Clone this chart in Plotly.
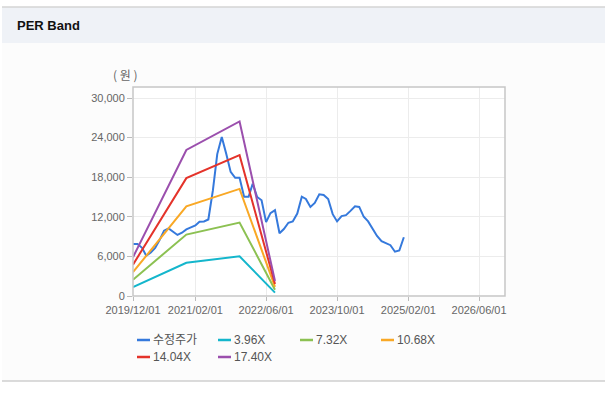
import plotly.graph_objects as go

# ---- data ----
price_dates = [f"{2019 + (11 + m) // 12}-{(11 + m) % 12 + 1:02d}-01" for m in range(62)]
price_values = [7880, 7880, 7300, 6100, 6600, 7300, 8500, 9900, 10250, 9800,
                9250, 9590, 10100, 10400, 10700, 11260, 11300, 11600, 16000, 21500,
                24100, 21500, 18800, 17900, 17900, 15040, 15040, 17000, 15000, 14500,
                11200, 12550, 13000, 9500, 10150, 11100, 11300, 12500, 15040, 14700,
                13500, 14100, 15400, 15300, 14700, 12400, 11300, 12100, 12250, 12900,
                13600, 13500, 12000, 11300, 10100, 9100, 8300, 8050, 7700, 6710,
                6900, 8900]

band_dates = ["2019-12-01", "2020-12-01", "2021-12-01", "2022-08-01"]
band_396 = [1340, 5040, 6020, 515]
band_732 = [2470, 9310, 11130, 950]
band_1068 = [3610, 13590, 16230, 1390]
band_1404 = [4750, 17860, 21340, 1825]
band_1740 = [5880, 22130, 26450, 2260]

series_names = ["수정주가", "3.96X", "7.32X", "10.68X", "14.04X", "17.40X"]
colors = ["#3579dc", "#14b6cc", "#8cc152", "#f9a825", "#e4332a", "#9b4fad"]

x_tick_vals = ["2019-12-01", "2021-02-01", "2022-06-01", "2023-10-01", "2025-02-01", "2026-06-01"]
x_tick_text = ["2019/12/01", "2021/02/01", "2022/06/01", "2023/10/01", "2025/02/01", "2026/06/01"]
y_tick_vals = [0, 6000, 12000, 18000, 24000, 30000]

fig = go.Figure()
fig.add_trace(go.Scatter(x=price_dates, y=price_values, mode="lines", name=series_names[0],
                         line=dict(color=colors[0], width=2)))
for name, vals, col in zip(series_names[1:], [band_396, band_732, band_1068, band_1404, band_1740], colors[1:]):
    fig.add_trace(go.Scatter(x=band_dates, y=vals, mode="lines", name=name,
                             line=dict(color=col, width=2)))

W, H = 608, 393
L, R, T, B = 133, 505, 87, 296
pw, ph = R - L, B - T

def px(x):
    return (x - L) / pw

def py(y):
    return (B - y) / ph

shapes = [
    # panel background
    dict(type="rect", xref="paper", yref="paper", x0=px(2), x1=px(605), y0=py(381), y1=py(43),
         fillcolor="#fcfcfc", line=dict(width=0), layer="below"),
    # header bar
    dict(type="rect", xref="paper", yref="paper", x0=px(2), x1=px(605), y0=py(43), y1=py(7),
         fillcolor="#eff2f7", line=dict(width=0), layer="below"),
    dict(type="line", xref="paper", yref="paper", x0=px(2), x1=px(605), y0=py(7), y1=py(7),
         line=dict(color="#d4d4d4", width=1.5)),
    dict(type="line", xref="paper", yref="paper", x0=px(2), x1=px(605), y0=py(381), y1=py(381),
         line=dict(color="#cfcfcf", width=1.5)),
    # plot area white
    dict(type="rect", xref="paper", yref="paper", x0=0, x1=1, y0=0, y1=1,
         fillcolor="#ffffff", line=dict(width=0), layer="below"),
    # frame
    dict(type="rect", xref="paper", yref="paper", x0=0, x1=1, y0=0, y1=1,
         line=dict(color="#c6c6c6", width=1.5), layer="above"),
]

annotations = [
    dict(text="<b>PER Band</b>", xref="paper", yref="paper", x=px(15), y=py(25),
         xanchor="left", yanchor="middle", showarrow=False,
         font=dict(family="Liberation Sans, Arial, sans-serif", size=13, color="#111111")),
    dict(text="( 원 )", xref="paper", yref="paper", x=px(125), y=py(74),
         xanchor="center", yanchor="middle", showarrow=False,
         font=dict(family="Noto Sans CJK KR, sans-serif", size=12, color="#666666")),
]

# legend (drawn as key dashes + text labels, two rows)
legend_x = [137, 218, 300, 381, 137, 218]
legend_y = [340, 340, 340, 340, 357, 357]
for name, col, lx, ly in zip(series_names, colors, legend_x, legend_y):
    shapes.append(dict(type="line", xref="paper", yref="paper", x0=px(lx), x1=px(lx + 13),
                       y0=py(ly), y1=py(ly), line=dict(color=col, width=2.5)))
    annotations.append(dict(text=name, xref="paper", yref="paper", x=px(lx + 14), y=py(ly),
                            xanchor="left", yanchor="middle", showarrow=False,
                            font=dict(family="Liberation Sans, Noto Sans CJK KR, sans-serif",
                                      size=12, color="#555555")))

fig.update_layout(
    width=W, height=H,
    margin=dict(l=L, r=W - R, t=T, b=H - B, pad=0),
    paper_bgcolor="#ffffff", plot_bgcolor="rgba(0,0,0,0)",
    font=dict(family="Liberation Sans, Arial, sans-serif", size=11, color="#666666"),
    shapes=shapes, annotations=annotations,
    showlegend=False,
    xaxis=dict(type="date", range=["2019-12-01", "2026-11-26"], tickvals=x_tick_vals, ticktext=x_tick_text,
               showgrid=True, gridcolor="#ececec", gridwidth=1, zeroline=False,
               ticks="outside", ticklen=4, tickcolor="#bbbbbb", showline=False,
               tickfont=dict(size=11, color="#666666")),
    yaxis=dict(range=[0, 31667], tickvals=y_tick_vals, tickformat=",",
               showgrid=True, gridcolor="#ececec", gridwidth=1, zeroline=False,
               ticks="outside", ticklen=5, tickcolor="#bbbbbb", showline=False,
               tickfont=dict(size=11, color="#666666")),
)

fig.write_html("out.html", config={"displayModeBar": False},
               post_script="document.body.style.margin='0px';")
